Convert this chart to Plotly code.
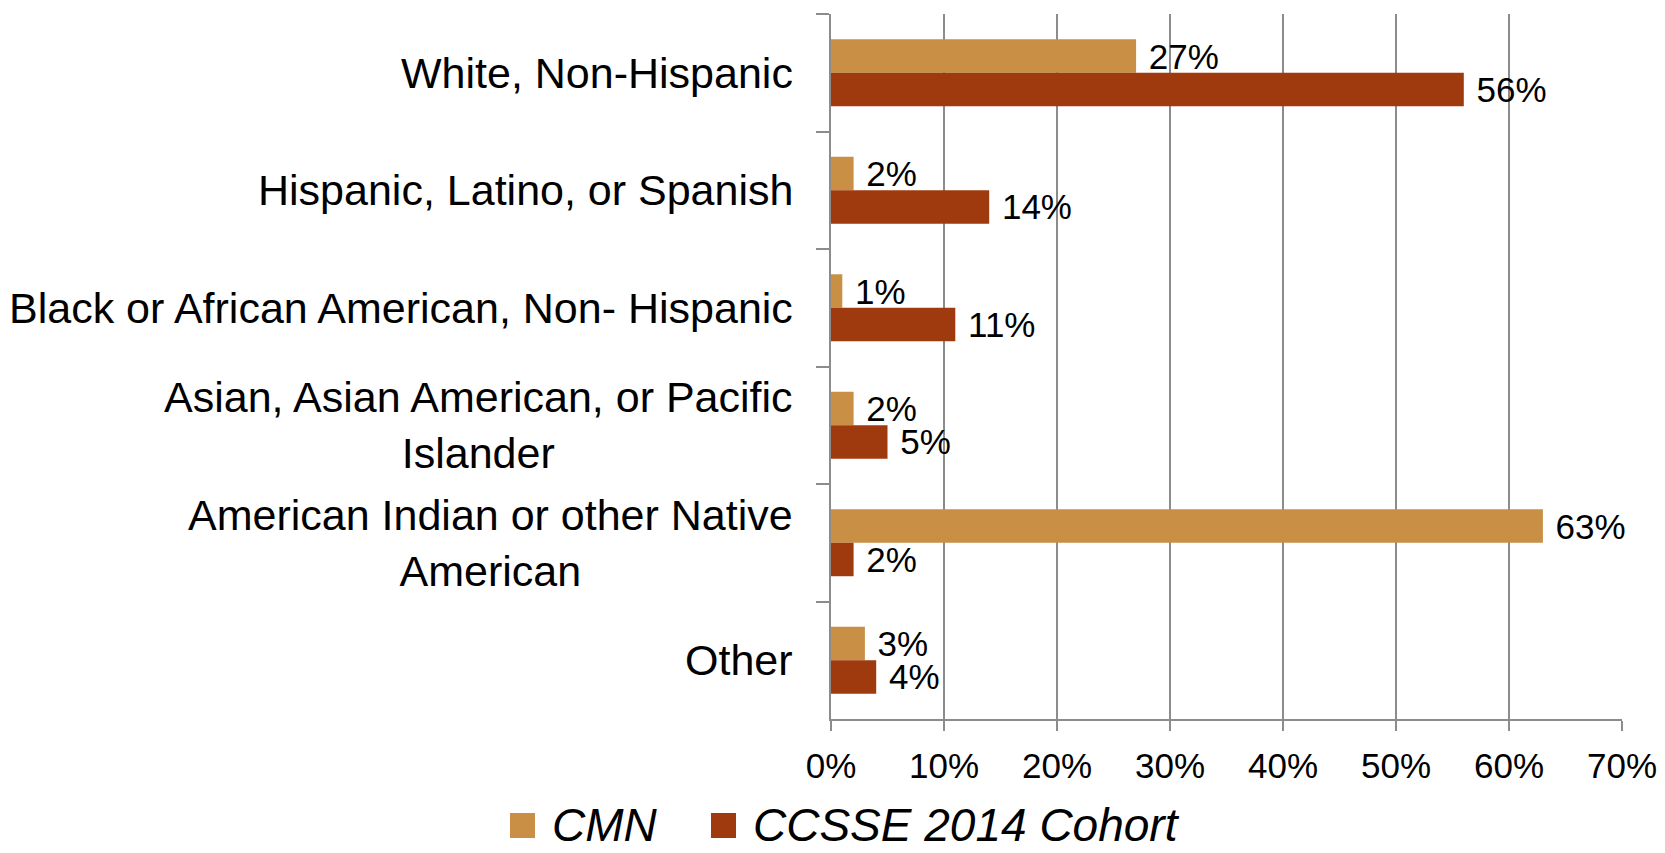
import plotly.graph_objects as go

categories = [
    "White, Non-Hispanic",
    "Hispanic, Latino, or Spanish",
    "Black or African American, Non- Hispanic",
    "Asian, Asian American, or Pacific<br>Islander",
    "American Indian or other Native<br>American",
    "Other",
]
cmn = [27, 2, 1, 2, 63, 3]
ccsse = [56, 14, 11, 5, 2, 4]
series_names = ["CMN", "CCSSE 2014 Cohort"]
colors = ["#C88F45", "#9E3A0E"]
x_ticks = [0, 10, 20, 30, 40, 50, 60, 70]
x_tick_labels = [f"{v}%" for v in x_ticks]

# page body has an 8px margin: lay the figure out in viewport pixels minus 8
OFF = 8
VW, VH = 1665, 853
W, H = VW - OFF, VH - OFF
PL, PR, PT, PB = 831, 1622, 14, 719          # plot area in viewport pixels
L, R, T, B = PL - OFF, W - (PR - OFF), PT - OFF, H - (PB - OFF)
FONT = "Liberation Sans, Arial, Helvetica, sans-serif"
GRID = "#8c8c8c"


def px_to_paper(px, py):
    fx, fy = px - OFF, py - OFF
    return (fx - L) / (W - L - R), (H - B - fy) / (H - T - B)


fig = go.Figure()
for name, vals, col in zip(series_names, [cmn, ccsse], colors):
    fig.add_bar(
        y=categories, x=vals, orientation="h", name=name,
        marker=dict(color=col, line=dict(width=0)),
        text=["\u00a0" + f"{v}%" for v in vals],
        textposition="outside", constraintext="none", cliponaxis=False,
        textfont=dict(size=35, color="black", family=FONT),
        showlegend=False, hoverinfo="x+y",
    )

# category labels: right-aligned block, lines centred within it
for cat in categories:
    fig.add_annotation(
        x=0, xref="paper", y=cat, yref="y", text=cat,
        showarrow=False, xanchor="right", yanchor="middle", align="center",
        xshift=-36,
        font=dict(size=43, color="black", family=FONT),
    )

# legend (manual, large swatches)
legend_items = [(510, 550), (711, 751)]
for (sx, tx), name, col in zip(legend_items, series_names, colors):
    x0, y0 = px_to_paper(sx, 838)
    x1, y1 = px_to_paper(sx + 25, 813)
    fig.add_shape(type="rect", xref="paper", yref="paper", x0=x0, x1=x1, y0=y0, y1=y1,
                  fillcolor=col, line=dict(width=0))
    lx, ly = px_to_paper(tx, 825)
    fig.add_annotation(x=lx, y=ly, xref="paper", yref="paper", text=f"<i>{name}</i>",
                       showarrow=False, xanchor="left", yanchor="middle",
                       font=dict(size=46, color="black", family=FONT))

fig.update_layout(
    width=W, height=H,
    margin=dict(l=L, r=R, t=T, b=B, pad=0),
    paper_bgcolor="white", plot_bgcolor="white",
    barmode="group", bargap=0.43, bargroupgap=0,
    font=dict(family=FONT, color="black"),
    showlegend=False,
)
fig.update_xaxes(
    range=[0, 70], tickvals=x_ticks, ticktext=x_tick_labels,
    showgrid=True, gridcolor=GRID, gridwidth=1.5, zeroline=False,
    showline=True, linecolor=GRID, linewidth=1.5,
    ticks="outside", ticklen=10, tickcolor=GRID, tickwidth=1.5,
    ticklabelstandoff=5,
    tickfont=dict(size=35, color="black", family=FONT),
)
fig.update_yaxes(
    type="category", categoryorder="array", categoryarray=categories,
    autorange="reversed", showticklabels=False,
    ticks="outside", tickson="boundaries", ticklen=13, tickcolor=GRID, tickwidth=1.5,
    showline=True, linecolor=GRID, linewidth=1.5, showgrid=False, zeroline=False,
)

fig.write_html("out.html")
